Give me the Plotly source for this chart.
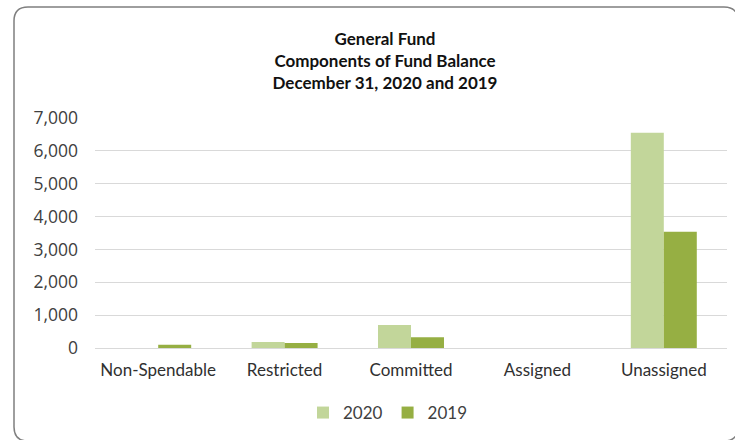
import plotly.graph_objects as go

# Fund balance components (thousands)
categories = ["Non-Spendable", "Restricted", "Committed", "Assigned", "Unassigned"]
values_2020 = [0, 180, 700, 0, 6550]
values_2019 = [100, 150, 325, 0, 3540]
y_ticks = [0, 1000, 2000, 3000, 4000, 5000, 6000, 7000]
y_tick_labels = ["0", "1,000", "2,000", "3,000", "4,000", "5,000", "6,000", "7,000"]

W, H = 735, 440
L, R, T, B = 95, 8, 118, 92
pw, ph = W - L - R, H - T - B

def px_x(x):
    return (x - L) / pw

def px_y(y):
    return (H - B - y) / ph

fig = go.Figure()
fig.add_trace(go.Bar(name="2020", x=categories, y=values_2020, marker_color="#C2D69A",
                     marker_line_width=0))
fig.add_trace(go.Bar(name="2019", x=categories, y=values_2019, marker_color="#96AF43",
                     marker_line_width=0))

# Rounded chart-area border (right and bottom edges run just past the page)
x0, y0, x1, y1, r = 14, 7, 738, 441, 14
rx, ry = r / pw, r / ph
X0, X1 = px_x(x0), px_x(x1)
Y0, Y1 = px_y(y0), px_y(y1)
path = (f"M {X0+rx},{Y0} L {X1-rx},{Y0} Q {X1},{Y0} {X1},{Y0-ry} "
        f"L {X1},{Y1+ry} Q {X1},{Y1} {X1-rx},{Y1} L {X0+rx},{Y1} "
        f"Q {X0},{Y1} {X0},{Y1+ry} L {X0},{Y0-ry} Q {X0},{Y0} {X0+rx},{Y0} Z")

fig.update_layout(
    width=W, height=H,
    margin=dict(l=L, r=R, t=T, b=B),
    paper_bgcolor="white", plot_bgcolor="white",
    barmode="group", bargap=0.478, bargroupgap=0,
    font=dict(family="Lato, Open Sans, sans-serif", color="#404040", size=15),
    title=dict(
        text="General Fund<br>Components of Fund Balance<br>December 31, 2020 and 2019",
        x=px_x(385), xanchor="center", xref="paper",
        y=1 - 45 / H, yanchor="top", yref="container",
        font=dict(family="Lato, sans-serif", size=17, color="#111111", weight="bold",
                  lineposition="none"),
    ),
    legend=dict(orientation="h", x=px_x(388), xanchor="center", y=px_y(413), yanchor="middle",
                font=dict(size=17, color="#404040"), itemwidth=30, traceorder="normal",
                bgcolor="rgba(0,0,0,0)"),
    shapes=[dict(type="path", path=path, xref="paper", yref="paper",
                 line=dict(color="#7f7f7f", width=1.5), layer="below")],
    showlegend=True,
)
fig.update_xaxes(showgrid=False, showline=False, ticks="", ticklabelstandoff=10,
                 tickfont=dict(size=17, color="#303030"))
fig.update_yaxes(range=[0, 7000], tickvals=y_ticks, ticktext=y_tick_labels,
                 showgrid=True, gridcolor="#D9D9D9", gridwidth=1.3,
                 zeroline=True, zerolinecolor="#D9D9D9", zerolinewidth=1.3,
                 showline=False, ticks="", ticklabelstandoff=16,
                 tickfont=dict(family="Open Sans, sans-serif", size=17.5, color="#404040"))

fig.write_html("out.html")
